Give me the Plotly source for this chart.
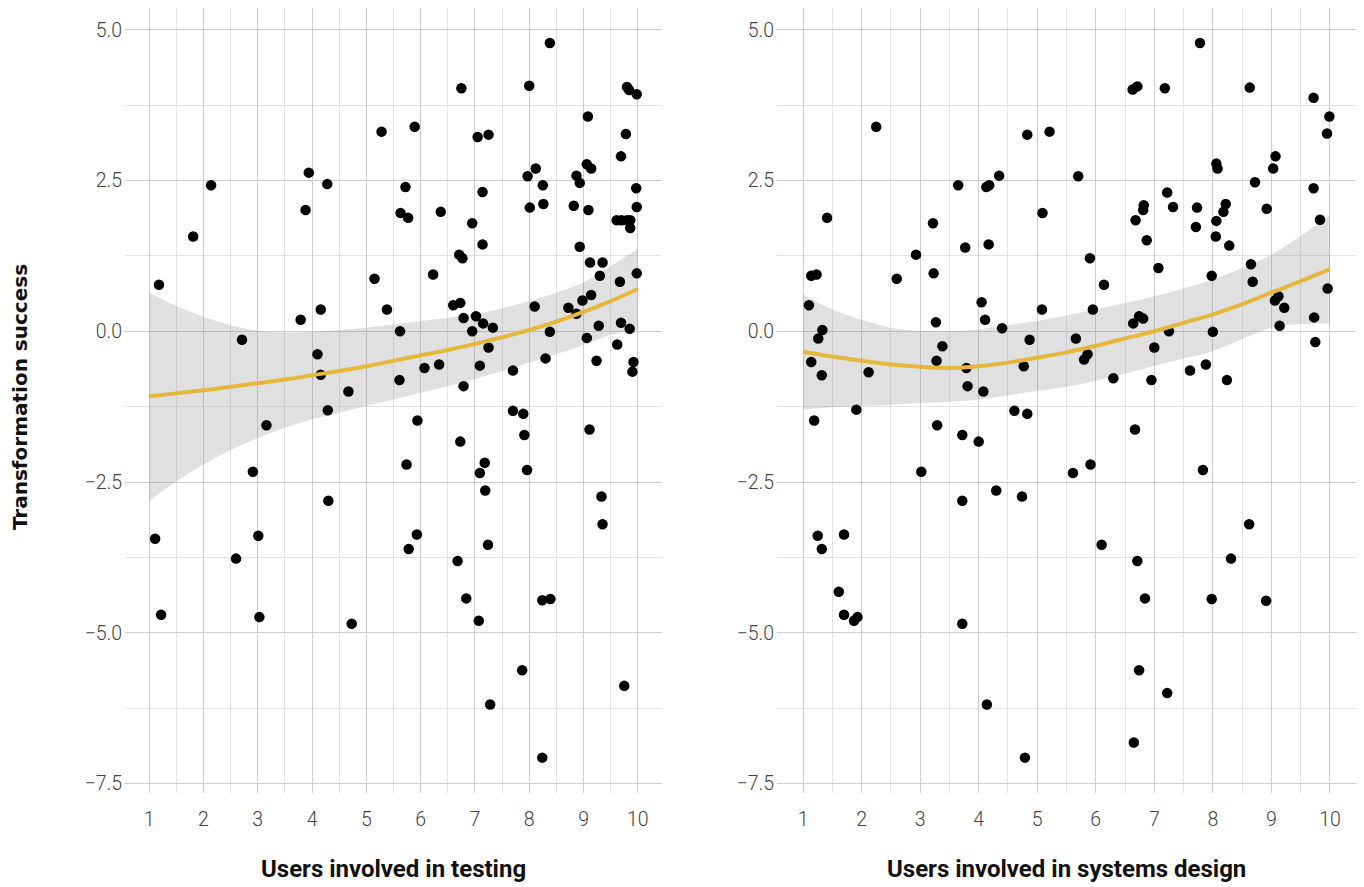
import plotly.graph_objects as go

# ---------------- data ----------------
testing_x = [5.28, 3.94, 4.28, 2.14, 3.88, 5.63, 1.81, 1.18, 5.15, 4.16, 5.38, 3.79, 5.62, 2.71, 4.10, 4.16, 4.67, 5.61,
             8.38, 6.75, 8.00, 9.80, 9.84, 9.98, 5.89, 9.08, 7.05, 7.25, 9.78, 9.69, 5.72, 7.14, 7.97, 8.12, 8.25, 8.87,
             8.93, 9.06, 9.14, 9.97, 5.77, 6.37, 8.01, 8.26, 8.82, 9.09, 9.98, 9.61, 9.70, 9.80, 9.86, 9.86, 6.95, 7.14,
             8.93, 6.71, 6.77, 6.23, 9.12, 9.35, 9.30, 9.98, 9.67, 6.60, 6.73, 8.10, 8.72, 8.98, 9.14, 8.87, 6.79, 7.02,
             7.15, 7.33, 6.95, 9.69, 9.28, 9.85, 8.38, 9.06, 9.62, 7.25, 8.30, 9.24, 9.92, 9.90, 6.07, 6.34, 7.09, 7.70,
             6.79, 4.29, 3.16, 2.91, 4.30, 1.11, 3.01, 2.60, 1.22, 3.03, 4.73, 5.94, 7.70, 7.89, 7.91, 9.11, 6.73, 5.74,
             7.18, 7.09, 7.96, 7.19, 9.33, 9.35, 5.93, 5.78, 7.24, 6.68, 6.84, 8.24, 8.39, 7.07, 7.87, 9.75, 7.28, 8.24]
testing_y = [3.31, 2.63, 2.44, 2.42, 2.01, 1.96, 1.57, 0.77, 0.87, 0.36, 0.36, 0.19, 0.00, -0.14, -0.38, -0.72, -1.00, -0.81,
             4.78, 4.03, 4.07, 4.05, 4.00, 3.93, 3.39, 3.56, 3.22, 3.26, 3.27, 2.90, 2.39, 2.31, 2.57, 2.70, 2.42, 2.58,
             2.46, 2.77, 2.70, 2.37, 1.88, 1.98, 2.05, 2.11, 2.08, 2.01, 2.06, 1.84, 1.84, 1.84, 1.84, 1.71, 1.79, 1.44,
             1.40, 1.27, 1.21, 0.94, 1.14, 1.14, 0.92, 0.96, 0.82, 0.43, 0.47, 0.41, 0.39, 0.51, 0.60, 0.29, 0.22, 0.25,
             0.13, 0.06, 0.00, 0.14, 0.09, 0.04, -0.01, -0.11, -0.22, -0.27, -0.45, -0.49, -0.51, -0.67, -0.61, -0.55, -0.57, -0.65,
             -0.91, -1.31, -1.56, -2.33, -2.81, -3.44, -3.39, -3.77, -4.70, -4.74, -4.85, -1.48, -1.32, -1.37, -1.72, -1.63, -1.83, -2.21,
             -2.18, -2.35, -2.30, -2.64, -2.74, -3.20, -3.37, -3.61, -3.54, -3.81, -4.43, -4.46, -4.44, -4.80, -5.62, -5.88, -6.19, -7.07]

design_x = [2.25, 4.83, 5.21, 3.65, 4.13, 4.18, 4.35, 1.41, 3.22, 5.09, 3.77, 4.17, 2.93, 1.14, 1.23, 2.60, 3.23, 1.10,
            4.05, 5.08, 3.27, 4.11, 4.40, 1.33, 1.26, 4.87, 3.38, 1.14, 3.28, 1.32, 2.12, 3.79, 4.77, 3.81, 4.08,
            7.78, 6.63, 6.71, 7.18, 8.63, 9.72, 9.99, 9.95, 5.70, 9.07, 9.03, 8.06, 8.08, 8.72, 9.72, 7.22, 6.82, 6.81,
            7.32, 7.73, 8.22, 8.18, 8.92, 9.83, 6.68, 7.71, 8.06, 6.87, 8.05, 8.28, 5.90, 7.07, 8.65, 6.14, 7.98, 8.68,
            9.96, 5.95, 9.12, 9.06, 9.22, 6.74, 6.81, 6.64, 9.73, 9.14, 7.25, 8.00, 5.66, 7.00, 9.75, 5.86, 5.80, 6.30,
            6.95, 7.61, 7.88, 8.24, 1.91, 1.19, 4.61, 4.83, 3.29, 3.72, 4.00, 3.02, 4.30, 4.74, 3.72, 1.25, 1.70, 1.32,
            1.61, 1.70, 1.87, 1.93, 3.72, 4.14, 4.79, 6.67, 5.61, 5.91, 7.83, 8.62, 6.10, 6.71, 8.31, 6.84, 7.98, 8.91,
            6.74, 7.22, 6.65]
design_y = [3.39, 3.26, 3.31, 2.42, 2.39, 2.42, 2.58, 1.88, 1.79, 1.96, 1.39, 1.44, 1.27, 0.92, 0.94, 0.87, 0.96, 0.43,
            0.48, 0.36, 0.15, 0.19, 0.05, 0.02, -0.12, -0.14, -0.25, -0.51, -0.49, -0.73, -0.68, -0.61, -0.58, -0.91, -1.00,
            4.78, 4.01, 4.06, 4.03, 4.04, 3.87, 3.56, 3.28, 2.57, 2.90, 2.70, 2.78, 2.70, 2.47, 2.37, 2.30, 2.09, 2.01,
            2.06, 2.05, 2.11, 1.98, 2.03, 1.85, 1.84, 1.73, 1.83, 1.51, 1.57, 1.42, 1.21, 1.05, 1.11, 0.77, 0.92, 0.82,
            0.71, 0.36, 0.58, 0.51, 0.39, 0.25, 0.21, 0.13, 0.23, 0.09, 0.00, -0.01, -0.12, -0.27, -0.18, -0.38, -0.47, -0.78,
            -0.81, -0.65, -0.55, -0.81, -1.30, -1.48, -1.32, -1.37, -1.56, -1.72, -1.83, -2.33, -2.64, -2.74, -2.81, -3.39, -3.37, -3.61,
            -4.32, -4.70, -4.80, -4.74, -4.85, -6.19, -7.07, -1.63, -2.35, -2.21, -2.30, -3.20, -3.54, -3.81, -3.77, -4.43, -4.44, -4.47,
            -5.62, -6.00, -6.82]

fit_x = [1, 1.5, 2, 2.5, 3, 3.5, 4, 4.5, 5, 5.5, 6, 6.5, 7, 7.5, 8, 8.5, 9, 9.5, 10]
fit_testing = [-1.08, -1.03, -0.98, -0.92, -0.86, -0.80, -0.73, -0.66, -0.58, -0.49, -0.40, -0.31, -0.21, -0.10, 0.02, 0.16, 0.32, 0.50, 0.70]
hi_testing = [0.64, 0.42, 0.24, 0.10, 0.01, -0.02, -0.01, 0.02, 0.06, 0.11, 0.17, 0.22, 0.28, 0.38, 0.50, 0.64, 0.81, 1.08, 1.37]
lo_testing = [-2.81, -2.49, -2.21, -1.97, -1.77, -1.60, -1.46, -1.35, -1.24, -1.13, -1.02, -0.91, -0.79, -0.66, -0.52, -0.38, -0.23, -0.06, 0.03]

fit_design = [-0.34, -0.42, -0.49, -0.55, -0.59, -0.61, -0.58, -0.52, -0.44, -0.35, -0.24, -0.12, 0.00, 0.14, 0.28, 0.45, 0.64, 0.83, 1.03]
hi_design = [0.61, 0.36, 0.19, 0.06, 0.005, 0.0, 0.03, 0.10, 0.17, 0.26, 0.36, 0.47, 0.58, 0.71, 0.86, 1.05, 1.27, 1.58, 1.92]
lo_design = [-1.30, -1.26, -1.24, -1.22, -1.19, -1.17, -1.13, -1.06, -0.99, -0.92, -0.82, -0.70, -0.57, -0.45, -0.33, -0.13, 0.06, 0.12, 0.13]

x_ticks = [1, 2, 3, 4, 5, 6, 7, 8, 9, 10]
y_ticks = [-7.5, -5.0, -2.5, 0.0, 2.5, 5.0]
x_title_left = "Users involved in testing"
x_title_right = "Users involved in systems design"
y_title = "Transformation success"

# ---------------- styling ----------------
GOLD = "#E5B83C"
BAND = "rgba(140,140,140,0.27)"
GRID_MAJOR = "#cdcdcd"
GRID_MINOR = "#e3e3e3"
TICK_FONT = dict(family="Roboto", size=19.5, color="#444444", weight=300)
XTITLE_FONT = dict(family="Roboto", size=24, color="#111111", weight=700)
YTITLE_FONT = dict(family="DejaVu Sans", size=20, color="#111111", weight=700)

fig = go.Figure()

panels = [
    ("x", "y", testing_x, testing_y, fit_testing, lo_testing, hi_testing),
    ("x2", "y2", design_x, design_y, fit_design, lo_design, hi_design),
]
for xa, ya, px_, py_, fit, lo, hi in panels:
    fig.add_trace(go.Scatter(x=fit_x, y=lo, mode="lines", line=dict(width=0, shape="spline"),
                             xaxis=xa, yaxis=ya, showlegend=False, hoverinfo="skip"))
    fig.add_trace(go.Scatter(x=fit_x, y=hi, mode="lines", line=dict(width=0, shape="spline"),
                             fill="tonexty", fillcolor=BAND,
                             xaxis=xa, yaxis=ya, showlegend=False, hoverinfo="skip"))
    fig.add_trace(go.Scatter(x=px_, y=py_, mode="markers",
                             marker=dict(size=10.5, color="black", line=dict(width=0)),
                             xaxis=xa, yaxis=ya, showlegend=False))
    fig.add_trace(go.Scatter(x=fit_x, y=fit, mode="lines", line=dict(color=GOLD, width=4, shape="spline"),
                             xaxis=xa, yaxis=ya, showlegend=False))

# the page body has an 8px margin, so lay out in page pixels and shift
OFF = 8
W, H = 1364 - OFF, 887 - OFF

def fx(px):
    return (px - OFF) / W

def fy(py):
    return (H - (py - OFF)) / H

y_dom = [fy(795), min(1.0, fy(8))]
xdom_left = [fx(125), fx(662)]
xdom_right = [fx(777), fx(1356)]

def xaxis(dom, anchor):
    return dict(domain=dom, anchor=anchor, range=[0.555, 10.445], tickvals=x_ticks,
                showgrid=True, gridcolor=GRID_MAJOR, gridwidth=1.4, zeroline=False,
                showline=False, ticks="", ticklen=0, tickfont=TICK_FONT, ticklabelstandoff=12,
                minor=dict(dtick=0.5, tick0=0, showgrid=True, gridcolor=GRID_MINOR, gridwidth=1.2))

def yaxis(anchor):
    return dict(domain=y_dom, anchor=anchor, range=[-7.66, 5.36], tickvals=y_ticks, tickformat=".1f",
                showgrid=True, gridcolor=GRID_MAJOR, gridwidth=1.4, zeroline=False,
                showline=False, ticks="", ticklen=0, tickfont=TICK_FONT, ticklabelstandoff=2,
                minor=dict(dtick=1.25, tick0=0, showgrid=True, gridcolor=GRID_MINOR, gridwidth=1.2))

fig.update_layout(
    width=W, height=H,
    margin=dict(l=0, r=0, t=0, b=0),
    paper_bgcolor="white", plot_bgcolor="white",
    xaxis=xaxis(xdom_left, "y"),
    yaxis=yaxis("x"),
    xaxis2=xaxis(xdom_right, "y2"),
    yaxis2=yaxis("x2"),
    annotations=[
        dict(text=x_title_left, xref="paper", yref="paper", x=sum(xdom_left) / 2, y=fy(871),
             showarrow=False, font=XTITLE_FONT, xanchor="center", yanchor="middle"),
        dict(text=x_title_right, xref="paper", yref="paper", x=sum(xdom_right) / 2, y=fy(871),
             showarrow=False, font=XTITLE_FONT, xanchor="center", yanchor="middle"),
        dict(text=y_title, xref="paper", yref="paper", x=fx(20), y=fy(398), textangle=-90,
             showarrow=False, font=YTITLE_FONT, xanchor="center", yanchor="middle"),
    ],
)

fig.write_html("out.html")
